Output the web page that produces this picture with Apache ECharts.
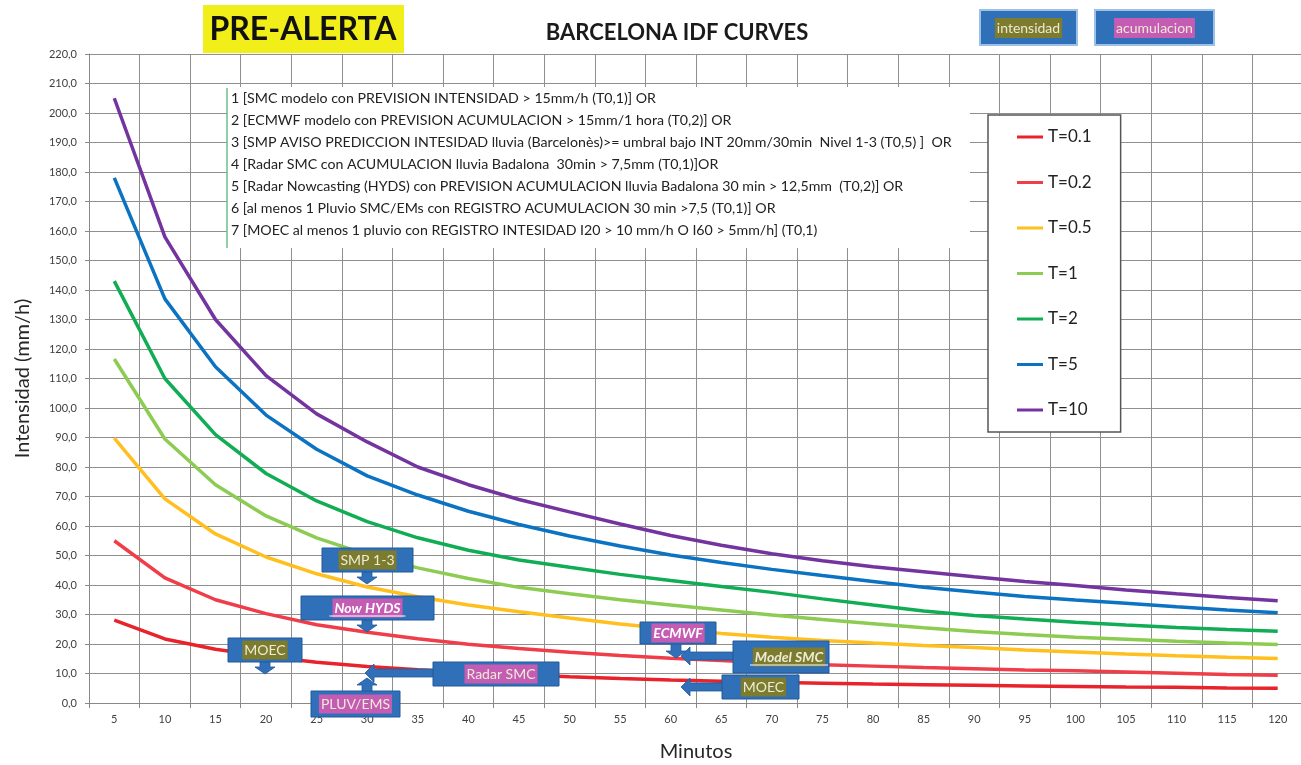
<!DOCTYPE html>
<html>
<head>
<meta charset="utf-8">
<script src="https://cdn.jsdelivr.net/npm/echarts@6/dist/echarts.min.js"></script>
<style>
html,body{margin:0;padding:0;background:#fff;}
#c{width:1301px;height:765px;}
</style>
</head>
<body>
<div id="c"></div>
<script>
const categories = ['5','10','15','20','25','30','35','40','45','50','55','60','65','70','75','80','85','90','95','100','105','110','115','120'];
const seriesNames = ['T=0.1','T=0.2','T=0.5','T=1','T=2','T=5','T=10'];
const t01 = [28.1,21.7,18.2,15.8,13.8,12.4,11.3,10.3,9.6,8.9,8.3,7.8,7.4,7.0,6.7,6.4,6.2,6.0,5.8,5.6,5.4,5.3,5.1,5.0];
const t02 = [55,42.4,35,30.3,26.5,24,21.8,19.9,18.5,17.2,16.1,15.2,14.4,13.6,13.0,12.5,12.0,11.6,11.2,10.9,10.5,10.1,9.7,9.4];
const t05 = [89.8,69.2,57.3,49.5,43.8,39.3,36,33.2,30.9,28.8,26.8,25.1,23.6,22.3,21.2,20.3,19.5,18.8,18.0,17.3,16.6,16.0,15.5,15.1];
const t1  = [116.6,89.5,74,63.4,56,50.3,45.8,42.2,39.2,37,35,33.2,31.5,29.8,28.3,26.9,25.5,24.2,23.2,22.3,21.6,20.9,20.3,19.8];
const t2  = [143,110,91,77.8,68.5,61.5,56,51.8,48.5,46,43.6,41.5,39.5,37.5,35.3,33.2,31.2,29.7,28.5,27.4,26.4,25.6,24.9,24.3];
const t5  = [178,137,114,97.6,86,77,70.5,65,60.5,56.6,53.2,50.2,47.6,45.3,43.2,41.2,39.2,37.6,36.1,34.9,33.8,32.6,31.5,30.6];
const t10 = [205,158,130,111,98,88.5,80,74,69,64.8,60.7,56.8,53.5,50.6,48.2,46.2,44.5,42.8,41.2,39.8,38.3,37,35.8,34.7];
const seriesData = [t01,t02,t05,t1,t2,t5,t10];
const colors = ['#e8232b','#ef3e4a','#ffbf1f','#8dcc52','#11ad55','#0b73c2','#7434a0'];

const criteria = [
 '1 [SMC modelo con PREVISION INTENSIDAD > 15mm/h (T0,1)] OR',
 '2 [ECMWF modelo con PREVISION ACUMULACION > 15mm/1 hora (T0,2)] OR',
 '3 [SMP AVISO PREDICCION INTESIDAD lluvia (Barcelonès)>= umbral bajo INT 20mm/30min  Nivel 1-3 (T0,5) ]  OR',
 '4 [Radar SMC con ACUMULACION lluvia Badalona  30min > 7,5mm (T0,1)]OR',
 '5 [Radar Nowcasting (HYDS) con PREVISION ACUMULACION lluvia Badalona 30 min > 12,5mm  (T0,2)] OR',
 '6 [al menos 1 Pluvio SMC/EMs con REGISTRO ACUMULACION 30 min >7,5 (T0,1)] OR',
 '7 [MOEC al menos 1 pluvio con REGISTRO INTESIDAD I20 > 10 mm/h O I60 > 5mm/h] (T0,1)'
];

const FONT = 'Lato, "Open Sans", sans-serif';
const BOXFILL = '#2f70b8';
const BOXSTROKE = '#24589a';
const OLIVE = '#7d7b2e';
const MAGENTA = '#c55cb4';

const g = [];
// title elements
g.push({type:'rect', z:100, shape:{x:203,y:5,width:201,height:48}, style:{fill:'#f2ee1a'}});
g.push({type:'text', z:101, style:{text:'PRE-ALERTA', x:303, y:30, align:'center', verticalAlign:'middle', font:'bold 32px '+FONT, fill:'#111'}});
g.push({type:'text', z:101, style:{text:'BARCELONA IDF CURVES', x:677, y:33, align:'center', verticalAlign:'middle', font:'bold 22px '+FONT, fill:'#1a1a1a'}});
// header boxes
function headerBox(x,w,label,bg){
  g.push({type:'rect', z:100, shape:{x:x,y:10,width:w,height:35}, style:{fill:BOXFILL, stroke:'#9cc0e6', lineWidth:2}});
  g.push({type:'text', z:101, style:{text:label, x:x+w/2, y:28, align:'center', verticalAlign:'middle', font:'14px '+FONT, fill:'#ece9d2', backgroundColor:bg, padding:[3,2,3,2]}});
}
headerBox(980,97,'intensidad',OLIVE);
headerBox(1095,119,'acumulacion',MAGENTA);
// criteria text block
g.push({type:'rect', z:100, shape:{x:227,y:87,width:743,height:161}, style:{fill:'#fff'}});
g.push({type:'line', z:101, shape:{x1:227,y1:88,x2:227,y2:248}, style:{stroke:'#6bbf8e', lineWidth:1.5}});
criteria.forEach(function(t,i){
  g.push({type:'text', z:101, style:{text:t, x:231, y:98+22*i, verticalAlign:'middle', font:'14.2px '+FONT, fill:'#222'}});
});
// callouts
function callout(x,y,w,h,label,bg,opts){
  opts = opts || {};
  g.push({type:'rect', z:110, shape:{x:x,y:y,width:w,height:h}, style:{fill:BOXFILL, stroke:BOXSTROKE, lineWidth:1}});
  g.push({type:'text', z:111, style:{text:label, x:x+w/2+(opts.dx||0), y:y+h/2, align:'center', verticalAlign:'middle',
    font:(opts.italic?'italic bold ':'')+'14px '+FONT, fill:opts.color||'#ecebd6', backgroundColor:bg, padding:[3,2,2,2]}});
  if (opts.underline){
    g.push({type:'line', z:112, shape:{x1:x+w/2-opts.underline/2+(opts.dx||0), y1:y+h/2+8, x2:x+w/2+opts.underline/2+(opts.dx||0), y2:y+h/2+8}, style:{stroke:opts.color||'#fff', lineWidth:1}});
  }
}
function arrowV(cx,y0,y1){ // from y0 to tip y1
  const d = y1>y0?1:-1, len=Math.abs(y1-y0), hl=Math.min(7,len*0.55);
  const yb = y1 - d*hl;
  g.push({type:'polygon', z:109, shape:{points:[[cx-5,y0],[cx+5,y0],[cx+5,yb],[cx+10,yb],[cx,y1],[cx-10,yb],[cx-5,yb]]}, style:{fill:BOXFILL, stroke:BOXSTROKE, lineWidth:0.8}});
}
function arrowH(cy,x0,x1){ // from x0 to tip x1 (leftwards)
  const hl=9, xb=x1+hl;
  g.push({type:'polygon', z:109, shape:{points:[[x0,cy-4],[xb,cy-4],[xb,cy-9],[x1,cy],[xb,cy+9],[xb,cy+4],[x0,cy+4]]}, style:{fill:BOXFILL, stroke:BOXSTROKE, lineWidth:0.8}});
}
arrowV(367,571,584);
callout(322,548,91,24,'SMP 1-3',OLIVE);
arrowV(367,619,632);
callout(301,596,133,24,'Now HYDS',MAGENTA,{italic:true,color:'#ffffff',underline:76});
arrowV(265,661,674);
callout(228,638,74,24,'MOEC',OLIVE);
arrowH(673,434,365);
callout(433,662,126,24,'Radar SMC',MAGENTA,{dx:5});
arrowV(367,692,678);
callout(311,691,89,26,'PLUV/EMS',MAGENTA);
arrowV(676,643,658);
callout(640,622,76,22,'ECMWF',MAGENTA,{italic:true,color:'#ffffff'});
arrowH(656,734,681);
callout(733,641,96,32,'Model SMC',OLIVE,{italic:true,underline:78,dx:8});
arrowH(687,723,681);
callout(722,675,77,24,'MOEC',OLIVE,{dx:3});

const series = seriesNames.map(function(n,i){
  return {name:n, type:'line', data:seriesData[i], symbol:'none', smooth:false,
    lineStyle:{width:3.5, color:colors[i]}, itemStyle:{color:colors[i]}, z:3, animation:false};
});

const chart = echarts.init(document.getElementById('c'));
chart.setOption({
  animation:false,
  backgroundColor:'#ffffff',
  textStyle:{fontFamily:FONT},
  grid:{left:89, top:54, width:1214, height:649, containLabel:false, outerBoundsMode:'none'},
  legend:{
    orient:'vertical', left:988, top:115, data:seriesNames,
    icon:'rect', itemWidth:26, itemHeight:3, itemGap:25.5,
    backgroundColor:'#ffffff', borderColor:'#555', borderWidth:1.5,
    padding:[12,29,12,29],
    textStyle:{fontSize:17, color:'#222', lineHeight:20, fontFamily:FONT},
    selectedMode:false, z:50
  },
  xAxis:{
    type:'category', data:categories, boundaryGap:true,
    name:'Minutos', nameLocation:'middle', nameGap:39,
    nameTextStyle:{fontSize:20, color:'#262626', fontFamily:FONT},
    axisLine:{show:true, lineStyle:{color:'#888', width:1}},
    axisTick:{show:true, interval:0, length:5, lineStyle:{color:'#888'}},
    axisLabel:{interval:0, fontSize:11, color:'#404040', margin:11},
    splitLine:{show:true, interval:0, lineStyle:{color:'#8f8f8f', width:1}}
  },
  yAxis:{
    type:'value', min:0, max:220, interval:10,
    name:'Intensidad (mm/h)', nameLocation:'middle', nameGap:56,
    nameTextStyle:{fontSize:20, color:'#262626', fontFamily:FONT},
    axisLine:{show:true, lineStyle:{color:'#888', width:1}},
    axisTick:{show:true, length:4, lineStyle:{color:'#888'}},
    axisLabel:{fontSize:11, color:'#404040', margin:12, formatter:function(v){return v.toFixed(1).replace('.',',');}},
    splitLine:{show:true, lineStyle:{color:'#8f8f8f', width:1}}
  },
  series:series,
  graphic:g
});
</script>
</body>
</html>
